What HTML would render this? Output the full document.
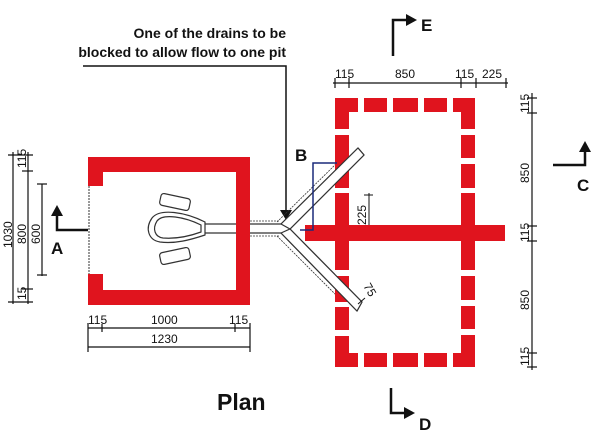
<!DOCTYPE html>
<html><head><meta charset="utf-8"><style>
html,body{margin:0;padding:0;background:#fff;}
svg{display:block;font-family:"Liberation Sans",Arial,sans-serif;}
</style></head><body>
<svg width="600" height="443" viewBox="0 0 600 443" xmlns="http://www.w3.org/2000/svg">
<!-- annotation -->
<g font-size="14" font-weight="bold" fill="#111" text-anchor="end">
<text x="286" y="38">One of the drains to be</text>
<text x="286" y="57">blocked to allow flow to one pit</text>
</g>
<polyline points="83,66 286,66 286,212" fill="none" stroke="#111" stroke-width="1.5"/>
<polygon points="280,210 292,210 286,220" fill="#111"/>

<!-- latrine -->
<g fill="#e0141e">
<rect x="88" y="157" width="162" height="15"/>
<rect x="88" y="290" width="162" height="15"/>
<rect x="236" y="157" width="14" height="148"/>
<rect x="88" y="157" width="15" height="29"/>
<rect x="88" y="274" width="15" height="31"/>
</g>
<line x1="89" y1="186" x2="89" y2="274" stroke="#333" stroke-width="1" stroke-dasharray="2,1"/>
<!-- pan -->
<g fill="none" stroke="#333" stroke-width="1.2">
<path d="M205,222 C185,212 160,208 152,218 C145,228 148,240 160,242 C175,244 190,240 205,235 Z"/>
<path d="M201,225 C185,217 163,213 157,221 C152,229 155,237 163,238 C176,239 190,236 201,232 Z"/>
<rect x="160" y="196" width="30" height="12" rx="3" transform="rotate(12 175 202)"/>
<rect x="160" y="250" width="30" height="12" rx="3" transform="rotate(-12 175 256)"/>
<line x1="205" y1="224" x2="236" y2="224"/><line x1="205" y1="233" x2="236" y2="233"/>
</g>
<!-- pipe -->
<g fill="none" stroke="#333" stroke-width="1.2">
<line x1="250" y1="224" x2="281" y2="224"/><line x1="250" y1="233" x2="281" y2="233"/>
<polyline points="281,224 358,148"/><polyline points="290,229 364,155"/>
<polyline points="281,233 357,311"/><polyline points="290,229 362,302"/>
<line x1="358" y1="148" x2="364" y2="155"/><line x1="357" y1="311" x2="362" y2="302"/>
<g stroke-dasharray="2,1" stroke-width="0.8"><line x1="250" y1="221" x2="279" y2="221"/><line x1="250" y1="236" x2="279" y2="236"/>
<line x1="277" y1="222" x2="340" y2="160"/><line x1="277" y1="236" x2="340" y2="299"/></g>
</g>

<!-- pits -->
<g fill="#e0141e">
<rect x="335" y="98" width="140" height="14"/>
<rect x="335" y="353" width="140" height="14"/>
<rect x="335" y="98" width="14" height="269"/>
<rect x="461" y="98" width="14" height="269"/>
<rect x="305" y="225" width="200" height="16"/>
</g>
<g fill="#fff">
<rect x="358" y="98" width="6" height="14"/><rect x="387" y="98" width="6" height="14"/><rect x="418" y="98" width="6" height="14"/><rect x="447" y="98" width="6" height="14"/>
<rect x="358" y="353" width="6" height="14"/><rect x="387" y="353" width="6" height="14"/><rect x="418" y="353" width="6" height="14"/><rect x="447" y="353" width="6" height="14"/>
<rect x="335" y="129" width="14" height="6"/><rect x="335" y="188" width="14" height="5"/><rect x="335" y="270" width="14" height="6"/><rect x="335" y="302" width="14" height="5"/><rect x="335" y="330" width="14" height="6"/>
<rect x="461" y="129" width="14" height="6"/><rect x="461" y="158" width="14" height="6"/><rect x="461" y="188" width="14" height="5"/><rect x="461" y="270" width="14" height="6"/><rect x="461" y="300" width="14" height="6"/><rect x="461" y="329" width="14" height="6"/>
</g>
<!-- pipe over pit walls -->
<g stroke="#333" stroke-width="1.2" fill="#fff">
<polygon points="281,224 358,148 364,155 290,229"/>
<polygon points="281,233 290,229 362,302 357,311"/>
</g>
<!-- B box -->
<polyline points="337,163 313,163 313,230 300,230" fill="none" stroke="#1a2a7a" stroke-width="1.5"/>
<text x="295" y="161" font-size="17" font-weight="bold" fill="#111">B</text>

<!-- 225 dim -->
<line x1="369" y1="193" x2="369" y2="225" stroke="#111" stroke-width="1"/>
<line x1="364" y1="195" x2="373" y2="195" stroke="#111" stroke-width="1"/>
<text transform="translate(366,225) rotate(-90)" font-size="12" fill="#111">225</text>
<text transform="translate(363,286) rotate(60)" font-size="12" fill="#111">75</text>
<line x1="358" y1="304" x2="365" y2="298" stroke="#111" stroke-width="1"/>

<!-- dims -->
<g stroke="#111" stroke-width="1.2" fill="none">
<line x1="13" y1="152" x2="13" y2="304"/>
<line x1="28" y1="152" x2="28" y2="304"/>
<line x1="42" y1="184" x2="42" y2="276"/>
<line x1="8" y1="155" x2="33" y2="155"/><line x1="22" y1="171" x2="33" y2="171"/>
<line x1="22" y1="289" x2="33" y2="289"/><line x1="8" y1="302" x2="33" y2="302"/>
<line x1="37" y1="184" x2="47" y2="184"/><line x1="37" y1="275" x2="47" y2="275"/>
<line x1="88" y1="328" x2="250" y2="328"/><line x1="88" y1="347" x2="250" y2="347"/>
<line x1="88" y1="323" x2="88" y2="352"/><line x1="250" y1="323" x2="250" y2="352"/>
<line x1="102" y1="324" x2="102" y2="332"/><line x1="235" y1="324" x2="235" y2="332"/>
<line x1="333" y1="83" x2="508" y2="83"/>
<line x1="335" y1="78" x2="335" y2="88"/><line x1="349" y1="78" x2="349" y2="88"/><line x1="461" y1="78" x2="461" y2="88"/><line x1="476" y1="78" x2="476" y2="88"/><line x1="506" y1="78" x2="506" y2="88"/>
<line x1="532" y1="93" x2="532" y2="370"/>
<line x1="527" y1="98" x2="537" y2="98"/><line x1="527" y1="113" x2="537" y2="113"/><line x1="527" y1="226" x2="537" y2="226"/><line x1="527" y1="241" x2="537" y2="241"/><line x1="527" y1="353" x2="537" y2="353"/><line x1="527" y1="367" x2="537" y2="367"/>
</g>
<g font-size="12" fill="#111">
<text transform="translate(12,248) rotate(-90)">1030</text>
<text transform="translate(26,244) rotate(-90)">800</text>
<text transform="translate(40,244) rotate(-90)">600</text>
<text transform="translate(26,168) rotate(-90)">115</text>
<text transform="translate(26,300) rotate(-90)">15</text>
<text x="88" y="324">115</text><text x="151" y="324">1000</text><text x="229" y="324">115</text>
<text x="151" y="343">1230</text>
<text x="335" y="78">115</text><text x="395" y="78">850</text><text x="455" y="78">115</text><text x="482" y="78">225</text>
<text transform="translate(529,113) rotate(-90)">115</text>
<text transform="translate(529,183) rotate(-90)">850</text>
<text transform="translate(529,242) rotate(-90)">115</text>
<text transform="translate(529,310) rotate(-90)">850</text>
<text transform="translate(529,366) rotate(-90)">115</text>
</g>

<!-- section markers -->
<g stroke="#111" stroke-width="2.5" fill="none">
<polyline points="88,230 57,230 57,214"/>
<polyline points="393,56 393,20 408,20"/>
<polyline points="553,165 585,165 585,150"/>
<polyline points="391,388 391,413 406,413"/>
</g>
<g fill="#111">
<polygon points="51,216 63,216 57,205"/>
<polygon points="406,14 406,26 417,20"/>
<polygon points="579,152 591,152 585,141"/>
<polygon points="404,407 404,419 415,413"/>
</g>
<g font-size="17" font-weight="bold" fill="#111">
<text x="51" y="254">A</text>
<text x="421" y="31">E</text>
<text x="577" y="191">C</text>
<text x="419" y="430">D</text>
</g>
<text x="217" y="410" font-size="23" font-weight="bold" fill="#111">Plan</text>
</svg>
</body></html>
